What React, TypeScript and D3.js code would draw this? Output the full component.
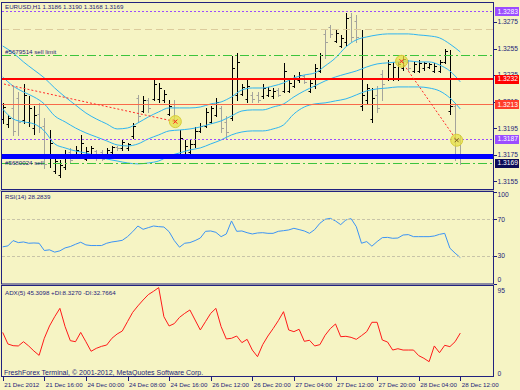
import React from 'react';
import * as d3 from 'd3';

// EURUSD H1, one bar per hour, 21 Dec 2012 08:00 .. 28 Dec 2012 12:00
const open = [
  1.3202, 1.3198, 1.3210, 1.3218, 1.3201, 1.3200, 1.3195, 1.3206, 1.3197, 1.3169,
  1.3163, 1.3160, 1.3166, 1.3177, 1.3174, 1.3176, 1.3172, 1.3175, 1.3178, 1.3177,
  1.3174, 1.3177, 1.3181, 1.3180, 1.3180, 1.3189, 1.3218, 1.3208, 1.3216, 1.3217,
  1.3217, 1.3216, 1.3206, 1.3213, 1.3175, 1.3175, 1.3177, 1.3183, 1.3193, 1.3197,
  1.3200, 1.3205, 1.3210, 1.3200, 1.3203, 1.3220, 1.3221, 1.3217, 1.3220, 1.3220,
  1.3219, 1.3220, 1.3219, 1.3224, 1.3223, 1.3223, 1.3227, 1.3231, 1.3234, 1.3223,
  1.3227, 1.3238, 1.3266, 1.3271, 1.3261, 1.3257, 1.3260, 1.3279, 1.3276, 1.3212,
  1.3216, 1.3202, 1.3220, 1.3236, 1.3232, 1.3233, 1.3232, 1.3240, 1.3245, 1.3238,
  1.3238, 1.3240, 1.3241, 1.3238, 1.3238, 1.3245, 1.3208, 1.3212, 1.3186,
];
const high = [
  1.3214, 1.3205, 1.3226, 1.3222, 1.3228, 1.3219, 1.3212, 1.3214, 1.3203, 1.3194,
  1.3173, 1.3171, 1.3179, 1.3180, 1.3182, 1.3190, 1.3181, 1.3182, 1.3179, 1.3179,
  1.3180, 1.3182, 1.3182, 1.3186, 1.3184, 1.3199, 1.3220, 1.3219, 1.3218, 1.3233,
  1.3229, 1.3224, 1.3216, 1.3216, 1.3194, 1.3186, 1.3186, 1.3196, 1.3199, 1.3210,
  1.3212, 1.3218, 1.3212, 1.3204, 1.3249, 1.3252, 1.3228, 1.3231, 1.3222, 1.3222,
  1.3228, 1.3226, 1.3225, 1.3225, 1.3244, 1.3231, 1.3235, 1.3237, 1.3235, 1.3231,
  1.3243, 1.3252, 1.3270, 1.3273, 1.3269, 1.3265, 1.3282, 1.3282, 1.3280, 1.3269,
  1.3228, 1.3225, 1.3227, 1.3239, 1.3246, 1.3245, 1.3245, 1.3249, 1.3246, 1.3245,
  1.3246, 1.3245, 1.3244, 1.3244, 1.3246, 1.3255, 1.3254, 1.3214, 1.3190,
];
const low = [
  1.3199, 1.3196, 1.3190, 1.3190, 1.3199, 1.3197, 1.3191, 1.3192, 1.3165, 1.3166,
  1.3161, 1.3158, 1.3164, 1.3169, 1.3173, 1.3173, 1.3171, 1.3173, 1.3171, 1.3171,
  1.3173, 1.3176, 1.3179, 1.3179, 1.3179, 1.3188, 1.3200, 1.3207, 1.3207, 1.3216,
  1.3215, 1.3215, 1.3205, 1.3200, 1.3173, 1.3173, 1.3175, 1.3181, 1.3192, 1.3196,
  1.3199, 1.3204, 1.3192, 1.3188, 1.3201, 1.3216, 1.3220, 1.3215, 1.3215, 1.3215,
  1.3218, 1.3219, 1.3218, 1.3219, 1.3222, 1.3222, 1.3226, 1.3230, 1.3229, 1.3222,
  1.3225, 1.3237, 1.3248, 1.3264, 1.3260, 1.3256, 1.3258, 1.3261, 1.3260, 1.3209,
  1.3214, 1.3200, 1.3207, 1.3216, 1.3231, 1.3231, 1.3231, 1.3239, 1.3239, 1.3237,
  1.3237, 1.3239, 1.3240, 1.3237, 1.3237, 1.3244, 1.3206, 1.3171, 1.3168,
];
const close = [
  1.3211, 1.3203, 1.3193, 1.3200, 1.3220, 1.3210, 1.3205, 1.3196, 1.3168, 1.3184,
  1.3170, 1.3167, 1.3176, 1.3171, 1.3179, 1.3184, 1.3178, 1.3180, 1.3173, 1.3172,
  1.3179, 1.3181, 1.3180, 1.3185, 1.3183, 1.3197, 1.3204, 1.3216, 1.3210, 1.3228,
  1.3225, 1.3221, 1.3212, 1.3201, 1.3188, 1.3182, 1.3183, 1.3193, 1.3197, 1.3207,
  1.3210, 1.3215, 1.3195, 1.3192, 1.3240, 1.3245, 1.3226, 1.3227, 1.3217, 1.3216,
  1.3225, 1.3224, 1.3223, 1.3220, 1.3238, 1.3229, 1.3233, 1.3235, 1.3230, 1.3229,
  1.3240, 1.3250, 1.3260, 1.3266, 1.3267, 1.3263, 1.3278, 1.3264, 1.3264, 1.3220,
  1.3225, 1.3218, 1.3210, 1.3228, 1.3243, 1.3241, 1.3243, 1.3247, 1.3240, 1.3243,
  1.3244, 1.3244, 1.3243, 1.3242, 1.3245, 1.3253, 1.3212, 1.3186, 1.3169,
];

// Bollinger bands
const bandIdx = d3.range(0, 89, 2);
const bbUpper = [
  1.32569, 1.32517, 1.32449, 1.32389, 1.32329, 1.32253, 1.32186, 1.32125, 1.32065, 1.32020,
  1.31983, 1.31945, 1.31952, 1.31990, 1.32035, 1.32073, 1.32103, 1.32103, 1.32103, 1.32110,
  1.32133, 1.32148, 1.32186, 1.32238, 1.32253, 1.32253, 1.32268, 1.32291, 1.32329, 1.32351,
  1.32366, 1.32419, 1.32479, 1.32562, 1.32615, 1.32637, 1.32652, 1.32660, 1.32660, 1.32660,
  1.32652, 1.32645, 1.32630, 1.32584, 1.32524,
];
const bbMiddle = [
  1.32336, 1.32268, 1.32223, 1.32186, 1.32133, 1.32043, 1.31998, 1.31952, 1.31915, 1.31885,
  1.31855, 1.31825, 1.31817, 1.31832, 1.31870, 1.31900, 1.31930, 1.31937, 1.31945, 1.31960,
  1.31983, 1.32005, 1.32043, 1.32080, 1.32088, 1.32088, 1.32110, 1.32133, 1.32186, 1.32231,
  1.32268, 1.32306, 1.32336, 1.32359, 1.32381, 1.32411, 1.32434, 1.32442, 1.32449, 1.32457,
  1.32449, 1.32449, 1.32426, 1.32381, 1.32299,
];
const bbLower = [
  1.32095, 1.32020, 1.31998, 1.31983, 1.31930, 1.31832, 1.31802, 1.31779, 1.31764, 1.31742,
  1.31719, 1.31704, 1.31689, 1.31682, 1.31689, 1.31704, 1.31742, 1.31764, 1.31787, 1.31802,
  1.31832, 1.31862, 1.31900, 1.31922, 1.31930, 1.31930, 1.31945, 1.31975, 1.32058, 1.32110,
  1.32133, 1.32141, 1.32156, 1.32171, 1.32201, 1.32231, 1.32246, 1.32253, 1.32261, 1.32261,
  1.32261, 1.32253, 1.32231, 1.32178, 1.32095,
];

const rsi = [
  40.0, 41.0, 46.8, 44.6, 45.3, 43.9, 44.2, 43.9, 36.0, 36.7,
  34.2, 35.6, 38.8, 40.3, 42.8, 45.0, 42.1, 41.4, 41.4, 41.4,
  43.9, 45.3, 46.1, 47.1, 51.1, 56.5, 62.7, 59.1, 60.9, 62.7,
  62.0, 61.6, 56.5, 46.8, 39.6, 43.9, 44.6, 46.8, 49.6, 56.9,
  57.3, 55.8, 51.1, 54.0, 68.2, 56.9, 57.3, 55.4, 54.0, 55.1,
  55.4, 54.7, 54.7, 56.9, 57.6, 58.4, 60.2, 58.8, 57.3, 54.7,
  58.8, 65.7, 70.0, 71.1, 68.2, 64.2, 69.3, 70.7, 62.0, 43.9,
  45.7, 40.7, 45.7, 50.0, 50.3, 49.3, 49.6, 52.9, 53.3, 51.1,
  51.1, 51.1, 51.1, 51.8, 53.6, 54.7, 38.5, 33.1, 28.28,
];
const rsiLevels = [70, 30];

const adx = [
  46.0, 33.8, 32.0, 31.7, 36.2, 31.7, 26.4, 21.8, 39.8, 52.8,
  62.6, 71.4, 52.1, 37.3, 36.2, 46.0, 36.2, 26.1, 29.2, 31.3,
  32.7, 39.8, 44.3, 47.5, 57.4, 67.2, 74.0, 80.2, 85.9, 89.4,
  93.3, 62.6, 52.8, 55.3, 61.9, 66.1, 69.7, 59.1, 48.6, 57.4,
  66.1, 71.4, 52.1, 39.1, 39.8, 42.2, 35.2, 38.7, 27.4, 20.4,
  33.1, 42.2, 50.0, 58.4, 67.9, 48.6, 46.8, 49.3, 36.6, 37.7,
  31.7, 33.1, 43.0, 50.0, 54.9, 41.5, 41.9, 40.8, 38.7, 42.6,
  46.8, 56.7, 56.7, 38.0, 35.9, 27.4, 28.8, 27.4, 27.4, 27.4,
  21.5, 18.7, 15.1, 31.7, 24.6, 32.4, 31.0, 36.2, 45.31,
];

const timeLabelIdx = [0, 8, 16, 24, 32, 40, 48, 56, 64, 72, 80, 88];
const timeLabels = [
  '21 Dec 2012', '21 Dec 16:00', '24 Dec 00:00', '24 Dec 08:00', '24 Dec 16:00', '26 Dec 12:00',
  '26 Dec 20:00', '27 Dec 04:00', '27 Dec 12:00', '27 Dec 20:00', '28 Dec 04:00', '28 Dec 12:00',
];

const priceTicks = [1.3275, 1.3255, 1.3235, 1.3215, 1.3195, 1.3175, 1.3155];

// horizontal objects on the price chart
const levelPrice = [1.3283, 1.3270, 1.3250, 1.3232, 1.3213, 1.3187, 1.31745, 1.3169];
const levelKind = ['alert', 'tp', 'limit', 'resist', 'support', 'alert', 'order', 'stop'];
const markPrice = [1.3283, 1.3232, 1.3213, 1.3187, 1.3169];
const markKind = ['alert', 'resist', 'support', 'alert', 'bid'];

// order history (bar index, price)
const tradeFromIdx = [-0.5, 76.7];
const tradeFromPrice = [1.32289, 1.32454];
const tradeToIdx = [33.2, 87.3];
const tradeToPrice = [1.3200, 1.3186];

const BG = '#f6f4c4';
const NAVY = '#1c1c78';
const FONT = 'Liberation Sans, Arial, sans-serif';

const lineStyle: Record<string, { stroke: string; width: number; dash?: string }> = {
  alert: { stroke: '#9b4dff', width: 1, dash: '2,2' },
  tp: { stroke: '#dccb9c', width: 1, dash: '7,4' },
  limit: { stroke: '#3cc43c', width: 1, dash: '9,3,2,3' },
  resist: { stroke: '#ff0000', width: 2 },
  support: { stroke: '#f86a4a', width: 1 },
  order: { stroke: '#0000ff', width: 5 },
  stop: { stroke: '#3cc43c', width: 1, dash: '9,3,2,3' },
};
const markFill: Record<string, string> = {
  alert: '#9b4dff',
  resist: '#ff0000',
  support: '#ff3c2a',
  bid: '#0c0c58',
};

export default function App() {
  const n = close.length;
  const x = d3.scaleLinear().domain([0, n - 1]).range([2.7, 460.3]);
  const yP = d3.scaleLinear().domain([1.31493, 1.329]).range([189, 2]);
  const yR = d3.scaleLinear().domain([0, 100]).range([283.5, 191.8]);
  const yA = d3.scaleLinear().domain([0, 95]).range([376, 286]);
  const px = (v: number) => Math.round(v) + 0.5;

  const band = (vals: number[]) =>
    d3.line<number>().x((_, k) => x(bandIdx[k])).y((v) => yP(v)).curve(d3.curveMonotoneX)(vals) || '';
  const rsiPath = d3.line<number>().x((_, i) => x(i)).y((v) => yR(v))(rsi) || '';
  const adxPath = d3.line<number>().x((_, i) => x(i)).y((v) => yA(v))(adx) || '';

  const axisText = { fontFamily: FONT, fontSize: 6.7, fill: NAVY } as const;
  const smallText = { fontFamily: FONT, fontSize: 6.2, fill: NAVY } as const;

  return (
    <div style={{ position: 'absolute', left: 0, top: 0 }}>
      <svg width={520} height={390} style={{ display: 'block' }}>
        <defs>
          <clipPath id="mainClip">
            <rect x={2} y={2.5} width={491} height={186.5} />
          </clipPath>
        </defs>
        <rect x={0} y={0} width={520} height={390} fill={BG} />

        {/* price bars */}
        <g clipPath="url(#mainClip)">
          {close.map((c, i) => {
            const bx = px(x(i));
            const col = c >= open[i] ? '#000000' : '#a4a49c';
            return (
              <g key={i} stroke={col} strokeWidth={1}>
                <line x1={bx} x2={bx} y1={Math.round(yP(high[i]))} y2={Math.round(yP(low[i])) + 1} />
                <line x1={bx - 2} x2={bx} y1={px(yP(open[i]))} y2={px(yP(open[i]))} />
                <line x1={bx} x2={bx + 2.5} y1={px(yP(c))} y2={px(yP(c))} />
              </g>
            );
          })}

          {/* Bollinger bands */}
          {[bbUpper, bbMiddle, bbLower].map((b, k) => (
            <path key={k} d={band(b)} fill="none" stroke="#2eb4f0" strokeWidth={1} />
          ))}

          {/* horizontal objects */}
          {levelPrice.map((p, k) => {
            const st = lineStyle[levelKind[k]];
            const ly = st.width % 2 === 1 ? px(yP(p)) : Math.round(yP(p));
            return (
              <line key={k} x1={2} x2={493} y1={ly} y2={ly} stroke={st.stroke}
                strokeWidth={st.width} strokeDasharray={st.dash} />
            );
          })}

          {/* order history */}
          {tradeFromIdx.map((fi, k) => (
            <line key={k} x1={x(fi)} y1={yP(tradeFromPrice[k])} x2={x(tradeToIdx[k])} y2={yP(tradeToPrice[k])}
              stroke="#ff2a2a" strokeWidth={1} strokeDasharray="2,2" />
          ))}
          {[tradeToIdx[0], tradeFromIdx[1], tradeToIdx[1]].map((ti, k) => {
            const pr = [tradeToPrice[0], tradeFromPrice[1], tradeToPrice[1]][k];
            const cx = x(ti);
            const cy = yP(pr);
            return (
              <g key={k}>
                <circle cx={cx} cy={cy} r={6} fill="#e6e044" fillOpacity={0.75} stroke="#d6cc3a" />
                <path d={`M${cx - 2},${cy - 2}L${cx + 2},${cy + 2}M${cx + 2},${cy - 2}L${cx - 2},${cy + 2}`}
                  stroke={k === 2 ? '#806020' : '#ff2020'} strokeWidth={1} />
              </g>
            );
          })}
        </g>

        <text x={5} y={8.5} style={smallText}>EURUSD,H1  1.3186 1.3190 1.3168 1.3169</text>
        <text x={5} y={54} style={smallText}>#5679514 sell limit</text>
        <text x={5} y={164.5} style={smallText}>#5680024 sell</text>

        {/* RSI */}
        <path d={rsiPath} fill="none" stroke="#3b93f5" strokeWidth={1} />
        {rsiLevels.map((l) => (
          <line key={l} x1={2} x2={493} y1={px(yR(l))} y2={px(yR(l))} stroke="#c8c4a8" strokeDasharray="3,2" />
        ))}
        <text x={5} y={199} style={smallText}>RSI(14) 28.2839</text>

        {/* ADX */}
        <path d={adxPath} fill="none" stroke="#ff1a1a" strokeWidth={1} />
        <text x={5} y={295} style={smallText}>ADX(5) 45.3098 +DI:8.3270 -DI:32.7664</text>
        <text x={4} y={375} style={{ fontFamily: FONT, fontSize: 7, fill: NAVY }}>
          FreshForex Terminal, © 2001-2012, MetaQuotes Software Corp.
        </text>

        {/* panel frames */}
        <rect x={1.5} y={2.5} width={492} height={187} fill="none" stroke="#22227e" />
        <rect x={0} y={190} width={494} height={1.5} fill="#b8b8b0" />
        <rect x={1.5} y={191.5} width={492} height={92.5} fill="none" stroke="#22227e" />
        <rect x={1.5} y={285.5} width={492} height={91} fill="none" stroke="#22227e" />

        {/* price axis */}
        {priceTicks.map((t) => (
          <g key={t}>
            <line x1={494} x2={497} y1={px(yP(t))} y2={px(yP(t))} stroke={NAVY} />
            <text x={497.5} y={yP(t)} dy="0.35em" style={axisText}>{t.toFixed(4)}</text>
          </g>
        ))}
        {markPrice.map((p, k) => (
          <g key={k}>
            <rect x={495} y={Math.round(yP(p)) - 4} width={24} height={9} fill={markFill[markKind[k]]} />
            <text x={497.5} y={yP(p)} dy="0.35em" style={{ ...axisText, fill: '#ffffff' }}>{p.toFixed(4)}</text>
          </g>
        ))}

        {/* RSI / ADX axes */}
        {[100, 70, 30, 0].map((v) => {
          const ty = Math.min(Math.max(yR(v), 195), 280);
          return (
            <g key={v}>
              <line x1={494} x2={497} y1={px(yR(v))} y2={px(yR(v))} stroke={NAVY} />
              <text x={497.5} y={ty} dy="0.35em" style={axisText}>{v}</text>
            </g>
          );
        })}
        {[95, 0].map((v) => {
          const ty = Math.min(Math.max(yA(v), 290.5), 373.5);
          return (
            <text key={v} x={497.5} y={ty} dy="0.35em" style={axisText}>{v}</text>
          );
        })}

        {/* time axis */}
        {timeLabelIdx.map((ti, k) => (
          <g key={ti}>
            <line x1={px(x(ti))} x2={px(x(ti))} y1={377} y2={381} stroke={NAVY} />
            <text x={x(ti) + 1.5} y={387} style={smallText}>{timeLabels[k]}</text>
          </g>
        ))}
      </svg>
    </div>
  );
}
